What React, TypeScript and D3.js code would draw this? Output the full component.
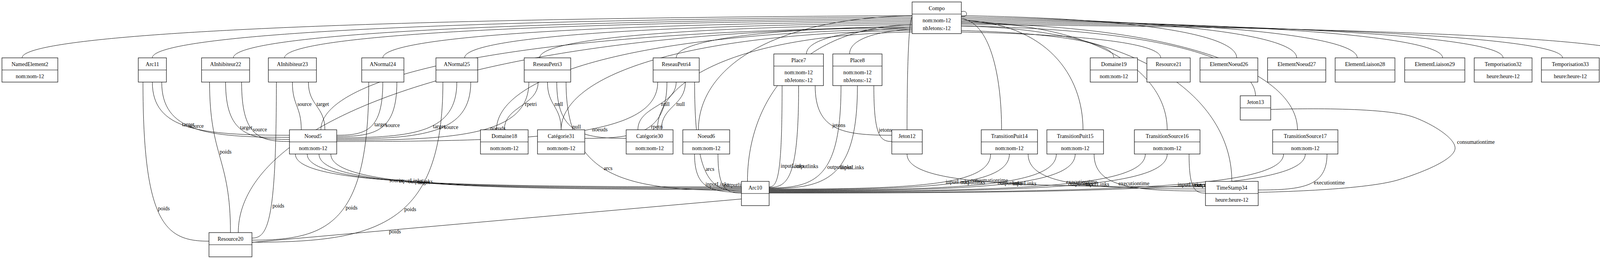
import * as d3 from 'd3';

const W = 4257;
const H = 660;

// class names and their attribute rows
const nodeNames = [
  'Compo', 'NamedElement2', 'Arc11', 'AInhibiteur22', 'AInhibiteur23', 'ANormal24', 'ANormal25',
  'ReseauPetri3', 'ReseauPetri4', 'Place7', 'Place8', 'Domaine19', 'Resource21', 'ElementNoeud26',
  'ElementNoeud27', 'ElementLiaison28', 'ElementLiaison29', 'Temporisation32', 'Temporisation33',
  'TimeStamp35', 'Jeton13', 'Noeud5', 'Domaine18', 'Catégorie31', 'Catégorie30', 'Noeud6', 'Jeton12',
  'TransitionPuit14', 'TransitionPuit15', 'TransitionSource16', 'TransitionSource17', 'Arc10',
  'TimeStamp34', 'Resource20',
];
const nodeAttrs: Record<string, string[]> = {
  Compo: ['nom:nom-12', 'nbJetons:-12'],
  NamedElement2: ['nom:nom-12'],
  Place7: ['nom:nom-12', 'nbJetons:-12'],
  Place8: ['nom:nom-12', 'nbJetons:-12'],
  Domaine19: ['nom:nom-12'],
  Temporisation32: ['heure:heure-12'],
  Temporisation33: ['heure:heure-12'],
  TimeStamp35: ['heure:heure-12'],
  Noeud5: ['nom:nom-12'],
  Domaine18: ['nom:nom-12'],
  Catégorie31: ['nom:nom-12'],
  Catégorie30: ['nom:nom-12'],
  Noeud6: ['nom:nom-12'],
  TransitionPuit14: ['nom:nom-12'],
  TransitionPuit15: ['nom:nom-12'],
  TransitionSource16: ['nom:nom-12'],
  TransitionSource17: ['nom:nom-12'],
  TimeStamp34: ['heure:heure-12'],
};

// labelled associations [from, to, label]
const assocs: [string, string, string][] = [
  ['Arc11', 'Noeud5', 'target'], ['Arc11', 'Noeud5', 'source'], ['Arc11', 'Resource20', 'poids'],
  ['AInhibiteur22', 'Noeud5', 'target'], ['AInhibiteur22', 'Noeud5', 'source'], ['AInhibiteur22', 'Resource20', 'poids'],
  ['AInhibiteur23', 'Noeud5', 'source'], ['AInhibiteur23', 'Noeud5', 'target'], ['AInhibiteur23', 'Resource20', 'poids'],
  ['ANormal24', 'Noeud5', 'target'], ['ANormal24', 'Noeud5', 'source'], ['ANormal24', 'Resource20', 'poids'],
  ['ANormal25', 'Noeud5', 'target'], ['ANormal25', 'Noeud5', 'source'], ['ANormal25', 'Resource20', 'poids'],
  ['ReseauPetri3', 'Noeud5', 'noeuds'], ['ReseauPetri3', 'Arc10', 'arcs'], ['ReseauPetri3', 'Domaine18', 'rpetri'],
  ['ReseauPetri3', 'Catégorie31', 'null'], ['ReseauPetri3', 'Catégorie30', 'null'],
  ['ReseauPetri4', 'Noeud5', 'noeuds'], ['ReseauPetri4', 'Arc10', 'arcs'], ['ReseauPetri4', 'Catégorie31', 'rpetri'],
  ['ReseauPetri4', 'Catégorie30', 'null'], ['ReseauPetri4', 'Catégorie30', 'null'],
  ['Noeud5', 'Arc10', 'source'], ['Noeud5', 'Arc10', 'inputLinks'], ['Noeud5', 'Arc10', 'outputlinks'], ['Noeud5', 'Arc10', 'target'],
  ['Arc10', 'Resource20', 'poids'],
  ['Place7', 'Arc10', 'inputLinks'], ['Place7', 'Arc10', 'outputlinks'], ['Place7', 'Jeton12', 'jetons'],
  ['Place8', 'Arc10', 'outputlinks'], ['Place8', 'Jeton12', 'jetons'], ['Place8', 'Arc10', 'inputLinks'],
  ['Noeud6', 'Arc10', 'inputLinks'], ['Noeud6', 'Arc10', 'outputlinks'],
  ['Jeton12', 'TimeStamp34', 'consumationtime'],
  ['TransitionPuit14', 'Arc10', 'inputLinks'], ['TransitionPuit14', 'Arc10', 'outputlinks'], ['TransitionPuit14', 'TimeStamp34', 'executiontime'],
  ['TransitionPuit15', 'Arc10', 'outputlinks'], ['TransitionPuit15', 'Arc10', 'inputLinks'], ['TransitionPuit15', 'TimeStamp34', 'executiontime'],
  ['TransitionSource16', 'Arc10', 'outputlinks'], ['TransitionSource16', 'Arc10', 'inputLinks'], ['TransitionSource16', 'TimeStamp34', 'executiontime'],
  ['TransitionSource17', 'Arc10', 'inputLinks'], ['TransitionSource17', 'Arc10', 'outputlinks'], ['TransitionSource17', 'TimeStamp34', 'executiontime'],
  ['Jeton13', 'TimeStamp34', 'consumationtime'],
];

// layout: [x0, x1, top]
const layout: Record<string, [number, number, number]> = {
  Compo: [2335, 2461, 5],
  NamedElement2: [5, 148, 148], Arc11: [354, 426, 148], AInhibiteur22: [516, 639, 148],
  AInhibiteur23: [687, 810, 148], ANormal24: [926, 1034, 148], ANormal25: [1116, 1223, 148],
  ReseauPetri3: [1342, 1461, 148], ReseauPetri4: [1672, 1790, 148], Place7: [1981, 2108, 138],
  Place8: [2132, 2258, 138], Domaine19: [2791, 2912, 148], Resource21: [2936, 3047, 148],
  ElementNoeud26: [3072, 3220, 148], ElementNoeud27: [3245, 3394, 148], ElementLiaison28: [3418, 3571, 148],
  ElementLiaison29: [3596, 3750, 148], Temporisation32: [3774, 3922, 148], Temporisation33: [3946, 4094, 148],
  TimeStamp35: [4118, 4253, 148], Jeton13: [3175, 3253, 245],
  Noeud5: [741, 862, 332], Domaine18: [1230, 1352, 332], Catégorie31: [1376, 1497, 332],
  Catégorie30: [1603, 1723, 332], Noeud6: [1748, 1868, 332], Jeton12: [2283, 2361, 332],
  TransitionPuit14: [2512, 2656, 332], TransitionPuit15: [2680, 2825, 332],
  TransitionSource16: [2904, 3072, 332], TransitionSource17: [3258, 3425, 332],
  Arc10: [1898, 1969, 464], TimeStamp34: [3086, 3221, 464], Resource20: [535, 645, 595],
};
const HEAD = 31;
const ROW = 20;

const box = (n: string) => {
  const [x0, x1, y] = layout[n];
  const rows = (nodeAttrs[n] || []).length;
  const h = HEAD + Math.max(1, rows) * ROW + (rows > 1 ? 10 : 11);
  return { x0, x1, y, h, cx: (x0 + x1) / 2, bottom: y + h };
};

const bez = (p: number[][], t: number) => {
  const u = 1 - t;
  return [0, 1].map((k) => u * u * u * p[0][k] + 3 * u * u * t * p[1][k] + 3 * u * t * t * p[2][k] + t * t * t * p[3][k]);
};

// spread endpoints of several edges over a side of a node
function ports() {
  const out: Record<string, { i: number; k: number }> = {};
  const inc: Record<string, { i: number; k: number }> = {};
  const all = assocs.map((a, i) => ({ a, i }));
  d3.group(all, (d) => d.a[0]).forEach((list) => {
    const s = list.slice().sort((p, q) => box(p.a[1]).cx - box(q.a[1]).cx);
    s.forEach((d, k) => (out[d.i] = { i: k, k: s.length }));
  });
  d3.group(all, (d) => d.a[1] + (box(d.a[0]).cx < box(d.a[1]).x0 - 60 ? 'L' : box(d.a[0]).cx > box(d.a[1]).x1 + 60 ? 'R' : 'T')).forEach((list) => {
    const s = list.slice().sort((p, q) => box(p.a[0]).cx - box(q.a[0]).cx);
    s.forEach((d, k) => (inc[d.i] = { i: k, k: s.length }));
  });
  return { out, inc };
}

export default function App() {
  const { out, inc } = ports();
  const compo = box('Compo');
  const others = nodeNames.filter((n) => n !== 'Compo');

  const inheritance = others.map((n, idx) => {
    const b = box(n);
    const left = b.cx < compo.cx;
    const sx = left ? compo.x0 : compo.x1;
    const sy = 40 + (idx % 12) * 3.8;
    const tx = b.cx + (left ? 20 : -20) * ((idx % 3) - 1);
    const ty = b.y;
    const p = d3.path();
    p.moveTo(sx, sy);
    p.bezierCurveTo(sx + (tx - sx) * 0.7, sy + 8, tx, sy + (ty - sy) * 0.5, tx, ty);
    return p.toString();
  });

  const labelled = assocs.map((a, i) => {
    const s = box(a[0]);
    const t = box(a[1]);
    const o = out[i];
    const n = inc[i];
    const p = d3.path();
    if (a[0] === 'Arc10' && a[2] === 'poids') {
      const sx = s.x0, sy = s.y + 45, tx = t.x1, ty = t.y + 25;
      p.moveTo(sx, sy);
      p.lineTo(tx, ty);
      return { d: p.toString(), lx: sx + (tx - sx) * 0.72, ly: sy + (ty - sy) * 0.72 + 8, text: a[2] };
    }
    if (a[0] === 'Jeton13') {
      const line = d3.line().curve(d3.curveCatmullRom.alpha(0.5));
      const pts: [number, number][] = [[s.x1, s.y + 35], [3620, 300], [3725, 380], [3580, 460], [t.x1, t.y + 28]];
      return { d: line(pts) as string, lx: 3730, ly: 368, text: a[2] };
    }
    const sx = s.x0 + ((o.i + 0.5) / o.k) * (s.x1 - s.x0);
    const sy = s.bottom;
    const side = s.cx < t.x0 - 60 ? 'L' : s.cx > t.x1 + 60 ? 'R' : 'T';
    let pts: number[][];
    if (side === 'T') {
      const tx = t.x0 + ((n.i + 0.5) / n.k) * (t.x1 - t.x0);
      const ty = t.y;
      const my = (sy + ty) / 2;
      pts = [[sx, sy], [sx, my], [tx, my], [tx, ty]];
    } else {
      const tx = side === 'L' ? t.x0 : t.x1;
      const ty = t.y + 14 + (n.k > 1 ? (n.i / (n.k - 1)) * 16 : 8);
      pts = [[sx, sy], [sx, sy + (ty - sy) * 0.9], [sx + (tx - sx) * 0.35, ty], [tx, ty]];
    }
    p.moveTo(pts[0][0], pts[0][1]);
    p.bezierCurveTo(pts[1][0], pts[1][1], pts[2][0], pts[2][1], pts[3][0], pts[3][1]);
    const [lx, ly] = bez(pts, 0.45);
    return { d: p.toString(), lx: lx + 3, ly: ly + 5, text: a[2] };
  });

  const loop = d3.path();
  loop.moveTo(compo.x1, 30);
  loop.bezierCurveTo(compo.x1 + 18, 24, compo.x1 + 18, 46, compo.x1, 42);

  return (
    <svg width={W} height={H} style={{ position: 'fixed', left: 0, top: 0, background: '#fff' }}
      fontFamily="'Liberation Serif', serif" fontSize={14}>
      <rect width={W} height={H} fill="#fff" />
      <g fill="none" stroke="#000" strokeWidth={1}>
        {inheritance.map((d, i) => <path key={i} d={d} />)}
        <path d={loop.toString()} />
        {labelled.map((e, i) => <path key={i} d={e.d} />)}
      </g>
      <g fill="#000">
        {labelled.map((e, i) => (
          <text key={i} x={e.lx} y={e.ly}>{e.text}</text>
        ))}
      </g>
      {nodeNames.map((n) => {
        const b = box(n);
        const attrs = nodeAttrs[n] || [];
        return (
          <g key={n}>
            <rect x={b.x0} y={b.y} width={b.x1 - b.x0} height={b.h} fill="#fff" stroke="#000" strokeWidth={1.2} />
            <line x1={b.x0} x2={b.x1} y1={b.y + HEAD} y2={b.y + HEAD} stroke="#000" strokeWidth={1.2} />
            <text x={b.cx} y={b.y + 21} textAnchor="middle">{n}</text>
            {attrs.map((t, k) => (
              <text key={k} x={b.cx} y={b.y + HEAD + 21 + k * 20} textAnchor="middle">{t}</text>
            ))}
          </g>
        );
      })}
    </svg>
  );
}
